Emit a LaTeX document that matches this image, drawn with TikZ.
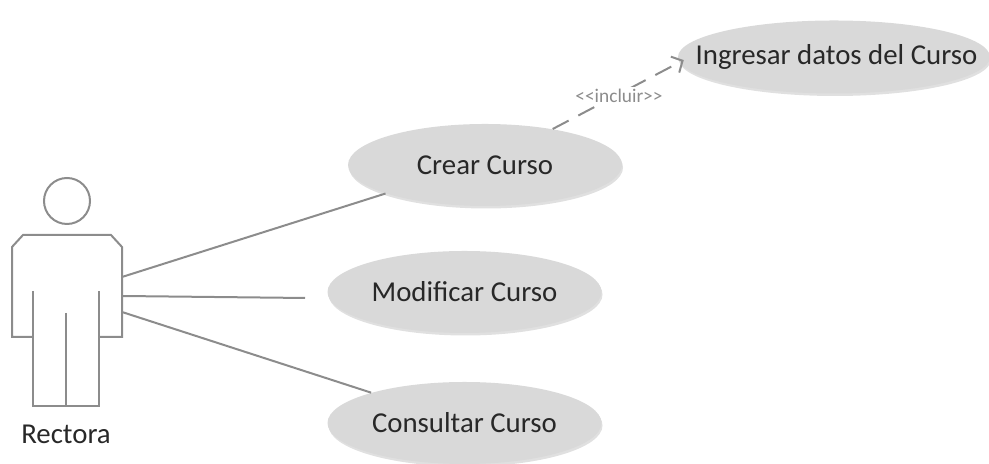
\documentclass[tikz,border=0pt]{standalone}
\usepackage{fontspec}
\setmainfont{Carlito}
\usetikzlibrary{shapes.geometric, arrows.meta, positioning, shadows}
\definecolor{casegray}{RGB}{217,217,217}
\definecolor{linegray}{RGB}{140,140,140}
\definecolor{textdark}{RGB}{40,40,40}
\tikzstyle{usecase} = [ellipse, minimum width=5.48cm, minimum height=1.64cm, inner sep=0pt, text centered, fill=casegray, text=textdark, font=\fontsize{16.4}{19}\selectfont, drop shadow={fill=black!12, opacity=1, shadow xshift=0.02cm, shadow yshift=-0.05cm}]
\tikzstyle{assoc} = [line width=0.04cm, draw=linegray]
\tikzstyle{include} = [line width=0.04cm, draw=linegray, dash pattern=on 0.36cm off 0.22cm, -{Straight Barb[length=0.17cm, width=0.36cm]}]
\tikzstyle{actorline} = [line width=0.04cm, draw=linegray, line join=miter]
\begin{document}
\begin{tikzpicture}
\useasboundingbox (0,0) rectangle (19.78,9.28);

% Use cases
\node[usecase] (crear) at (9.70,5.98) {Crear Curso};
\node[usecase, minimum width=6.24cm, minimum height=1.46cm] (ingresar) at (16.68,8.14) {\makebox[3cm][c]{\hspace{0.1cm}Ingresar datos del Curso}};
\node[usecase] (modificar) at (9.29,3.44) {Modificar Curso};
\node[usecase] (consultar) at (9.29,0.82) {Consultar Curso};

% Actor
\node[circle, actorline, minimum size=0.92cm, inner sep=0pt] (head) at (1.34,5.26) {};
\draw[actorline] (0.66,2.54) -- (0.24,2.54) -- (0.24,4.34) -- (0.46,4.58) -- (2.22,4.58) -- (2.44,4.34) -- (2.44,2.54) -- (1.98,2.54);
\draw[actorline] (0.66,3.46) -- (0.66,1.16) -- (1.98,1.16) -- (1.98,3.46);
\draw[actorline] (1.32,3.02) -- (1.32,1.16);
\node[text=textdark, font=\fontsize{16.4}{19}\selectfont] (rectora) at (1.32,0.60) {Rectora};

% Connector ends
\coordinate (actor_top) at (2.44,3.74);
\coordinate (actor_mid) at (2.44,3.36);
\coordinate (actor_low) at (2.44,3.04);
\coordinate (modificar_end) at (6.10,3.32);

% Associations
\draw[assoc] (actor_top) -- (crear.196);
\draw[assoc] (actor_mid) -- (modificar_end);
\draw[assoc] (actor_low) -- (consultar.162);

% Include
\draw[include, shorten >=-0.1cm] (crear.28) -- node[pos=0.5, xshift=0.06cm, text=linegray, font=\fontsize{11}{13}\selectfont, fill=white, inner sep=1pt] (incluir) {<{}<incluir>{}>} (ingresar.182);

\end{tikzpicture}
\end{document}
